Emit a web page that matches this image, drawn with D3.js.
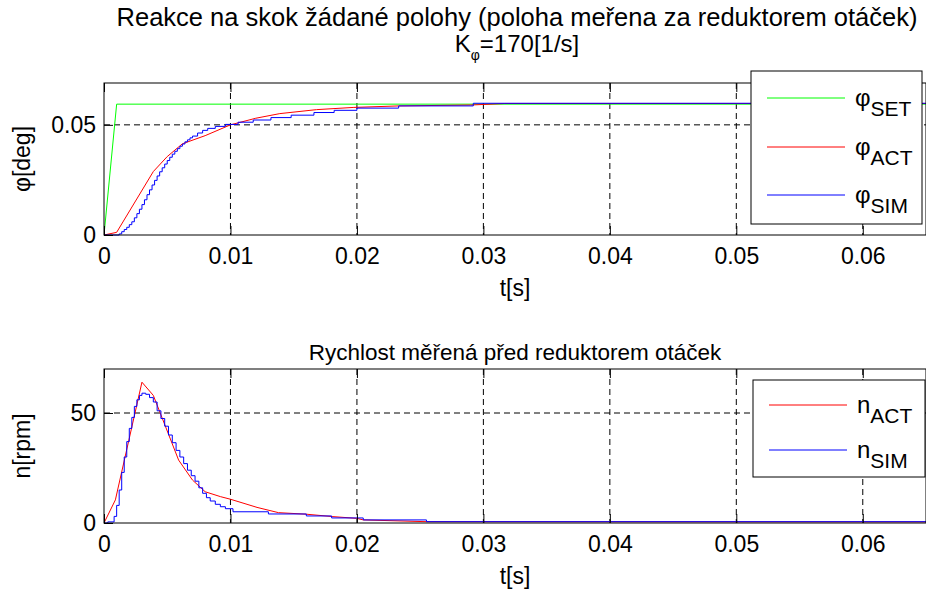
<!DOCTYPE html>
<html>
<head>
<meta charset="utf-8">
<script src="https://cdn.jsdelivr.net/npm/d3@7"></script>
<style>
  body { margin: 0; background: #fff; }
  svg text { font-family: "Liberation Sans", Arial, Helvetica, sans-serif; fill: #000; }
</style>
</head>
<body>
<div id="chart"></div>
<script>
// ---- data ----
// top plot, poloha [deg]
var tSet   = [0, 0.001, 0.065];
var phiSet = [0, 0.0594, 0.0594];

var tAct   = [0, 0.001, 0.0039, 0.005, 0.0062, 0.008, 0.010, 0.012, 0.0139, 0.0168, 0.0197, 0.0233, 0.029, 0.0317, 0.065];
var phiAct = [0, 0.0012, 0.0288, 0.0356, 0.0414, 0.0451, 0.0500, 0.0530, 0.0551, 0.0569, 0.0579, 0.0586, 0.0590, 0.0597, 0.0597];

// simulace is a staircase (sampled output)
var tSim   = [0, 0.0012, 0.0014, 0.0016, 0.0018, 0.0020, 0.0022, 0.0024, 0.0026, 0.0028, 0.0030, 0.0032, 0.0034,
              0.0036, 0.0038, 0.0040, 0.0042, 0.0044, 0.0046, 0.0048, 0.0050, 0.0052, 0.0054, 0.0056, 0.0058, 0.0060,
              0.0062, 0.0064, 0.0066, 0.0068, 0.0070, 0.0074, 0.0078, 0.0082, 0.0088, 0.0096, 0.0106, 0.0118, 0.0132,
              0.0148, 0.0166, 0.0182, 0.0200, 0.0233, 0.0292, 0.065];
var phiSim = [0, 0.0005, 0.0015, 0.0025, 0.0035, 0.0047, 0.0060, 0.0078, 0.0097, 0.0117, 0.0138, 0.0160, 0.0183,
              0.0205, 0.0227, 0.0248, 0.0268, 0.0287, 0.0305, 0.0322, 0.0338, 0.0353, 0.0367, 0.0380, 0.0392, 0.0403,
              0.0413, 0.0423, 0.0432, 0.0441, 0.0449, 0.0463, 0.0475, 0.0484, 0.0493, 0.0502, 0.0512, 0.0522, 0.0533,
              0.0544, 0.0556, 0.0566, 0.0576, 0.0586, 0.0598, 0.0598];

// bottom plot, rychlost [rpm]
var tNAct = [0, 0.0009, 0.0030, 0.0039, 0.0059, 0.0070, 0.0080, 0.0092, 0.0100, 0.0121, 0.0138, 0.0160, 0.0181,
             0.0200, 0.0205, 0.0255, 0.065];
var nAct  = [0, 10.5, 64, 58, 28.6, 19.5, 14.2, 12, 10.8, 7.1, 4.7, 4.0, 2.9, 2.1, 1.4, 0.6, 0.5];

var tNSim = [0, 0.0003, 0.0008, 0.0010, 0.0012, 0.0014, 0.0016, 0.0018, 0.0020, 0.0022, 0.0024, 0.0026, 0.0028,
             0.0030, 0.0033, 0.0036, 0.0039, 0.0042, 0.0045, 0.0048, 0.0051, 0.0054, 0.0057, 0.0060, 0.0063, 0.0066,
             0.0069, 0.0072, 0.0075, 0.0078, 0.0081, 0.0084, 0.0088, 0.0092, 0.0096, 0.0102, 0.0130, 0.0160, 0.0180,
             0.0205, 0.0255, 0.065];
var nSim  = [0, 0.5, 3, 8, 15, 23, 30, 37, 43, 48, 53, 56, 58,
             59, 58.5, 57, 55, 51, 47.5, 44, 40, 36.5, 33, 30, 27, 24,
             21.5, 19, 16, 13.5, 11.5, 10, 8.5, 7.4, 6.5, 5.1, 4.1, 3.2, 2.3,
             1.4, 0.6, 0.6];

// ticks
var xTicks      = [0, 0.01, 0.02, 0.03, 0.04, 0.05, 0.06];
var xTickLabels = ["0", "0.01", "0.02", "0.03", "0.04", "0.05", "0.06"];
var phiTicks      = [0, 0.05];
var phiTickLabels = ["0", "0.05"];
var nTicks      = [0, 50];
var nTickLabels = ["0", "50"];

var W = 926, H = 592;
var FS = 23;

var svg = d3.select("#chart").append("svg")
    .attr("width", W)
    .attr("height", H)
    .style("background-color", "white");

function zip(t, v) { return t.map(function(d, i) { return [d, v[i]]; }); }

// draws one axes box with grid, ticks and lines
function drawAxes(o) {
  var x = d3.scaleLinear().domain([0, 0.065]).range([104, 926]);
  var y = d3.scaleLinear().domain(o.ydomain).range([o.bottom, o.top]);
  var g = svg.append("g");

  g.append("rect")
    .attr("x", x.range()[0]).attr("y", o.top)
    .attr("width", x.range()[1] - x.range()[0]).attr("height", o.bottom - o.top)
    .attr("fill", "white");

  // dashed grid
  g.selectAll(".gx").data(xTicks.slice(1)).enter().append("line")
    .attr("x1", function(d) { return x(d); }).attr("x2", function(d) { return x(d); })
    .attr("y1", o.top).attr("y2", o.bottom)
    .attr("stroke", "#000").attr("stroke-width", 1).attr("stroke-dasharray", "6,4");
  g.selectAll(".gy").data(o.yticks.slice(1)).enter().append("line")
    .attr("x1", x.range()[0]).attr("x2", x.range()[1])
    .attr("y1", function(d) { return y(d); }).attr("y2", function(d) { return y(d); })
    .attr("stroke", "#000").attr("stroke-width", 1).attr("stroke-dasharray", "6,4");

  var clipId = "clip" + o.top;
  svg.append("clipPath").attr("id", clipId).append("rect")
    .attr("x", x.range()[0]).attr("y", o.top - 1)
    .attr("width", x.range()[1] - x.range()[0]).attr("height", o.bottom - o.top + 2);

  var lines = g.append("g").attr("clip-path", "url(#" + clipId + ")");
  o.series.forEach(function(s) {
    var line = d3.line()
      .x(function(d) { return x(d[0]); })
      .y(function(d) { return y(d[1]); })
      .curve(s.step ? d3.curveStepAfter : d3.curveLinear);
    lines.append("path")
      .datum(zip(s.t, s.v))
      .attr("d", line)
      .attr("fill", "none")
      .attr("stroke", s.color)
      .attr("stroke-width", 1);
  });

  // axes, ticks pointing inside
  var ax = g.append("g").attr("transform", "translate(0," + o.bottom + ")")
    .call(d3.axisBottom(x).tickValues(xTicks).tickFormat(function(d, i) { return xTickLabels[i]; })
      .tickSizeInner(-9).tickSizeOuter(0).tickPadding(13));
  var axTop = g.append("g").attr("transform", "translate(0," + o.top + ")")
    .call(d3.axisTop(x).tickValues(xTicks).tickFormat("").tickSizeInner(-9).tickSizeOuter(0));
  var ay = g.append("g").attr("transform", "translate(" + x.range()[0] + ",0)")
    .call(d3.axisLeft(y).tickValues(o.yticks).tickFormat(function(d, i) { return o.ylabels[i]; })
      .tickSizeInner(-9).tickSizeOuter(0).tickPadding(8));
  [ax, axTop, ay].forEach(function(a) {
    a.select(".domain").remove();
    a.selectAll("line").attr("stroke", "#000");
    a.selectAll("text").attr("font-size", FS).attr("font-family", null);
  });

  g.append("rect")
    .attr("x", x.range()[0]).attr("y", o.top)
    .attr("width", x.range()[1] - x.range()[0]).attr("height", o.bottom - o.top)
    .attr("fill", "none").attr("stroke", "#000").attr("stroke-width", 1);

  // x label
  g.append("text").attr("x", (x.range()[0] + x.range()[1]) / 2).attr("y", o.bottom + 61)
    .attr("text-anchor", "middle").attr("font-size", FS).text("t[s]");
  // y label
  g.append("text")
    .attr("transform", "translate(30," + (o.top + o.bottom) / 2 + ") rotate(-90)")
    .attr("text-anchor", "middle").attr("font-size", FS).text(o.ylabel);

  // legend
  var lg = g.append("g");
  lg.append("rect")
    .attr("x", o.legend.x).attr("y", o.legend.y).attr("width", o.legend.w).attr("height", o.legend.h)
    .attr("fill", "white").attr("stroke", "#000").attr("stroke-width", 1);
  o.series.forEach(function(s, i) {
    var ry = o.legend.rows[i];
    lg.append("line")
      .attr("x1", o.legend.x + 16).attr("x2", o.legend.x + 94)
      .attr("y1", ry).attr("y2", ry)
      .attr("stroke", s.color).attr("stroke-width", 1);
    var t = lg.append("text").attr("x", o.legend.x + 104).attr("y", ry + 8).attr("font-size", FS + 1);
    t.append("tspan").text(s.sym);
    t.append("tspan").attr("dy", 10).attr("font-size", FS - 2).text(s.sub);
  });
}

// titles
svg.append("text").attr("x", 517).attr("y", 26).attr("text-anchor", "middle").attr("font-size", 25.5)
  .text("Reakce na skok žádané polohy (poloha meřena za reduktorem otáček)");
var t2 = svg.append("text").attr("x", 517).attr("y", 52).attr("text-anchor", "middle").attr("font-size", 24);
t2.append("tspan").text("K");
t2.append("tspan").attr("dy", 8).attr("font-size", 14).text("φ");
t2.append("tspan").attr("dy", -8).text("=170[1/s]");

svg.append("text").attr("x", 515).attr("y", 360).attr("text-anchor", "middle").attr("font-size", 22.5)
  .text("Rychlost měřená před reduktorem otáček");

drawAxes({
  top: 83, bottom: 235,
  ydomain: [0, 0.069],
  yticks: phiTicks, ylabels: phiTickLabels,
  ylabel: "φ[deg]",
  series: [
    { t: tSet, v: phiSet, color: "#00ff00", sym: "φ", sub: "SET" },
    { t: tAct, v: phiAct, color: "#ff0000", sym: "φ", sub: "ACT" },
    { t: tSim, v: phiSim, color: "#0000ff", sym: "φ", sub: "SIM", step: true }
  ],
  legend: { x: 751, y: 71, w: 171, h: 153, rows: [98, 147, 195] }
});

drawAxes({
  top: 369, bottom: 523,
  ydomain: [0, 70],
  yticks: nTicks, ylabels: nTickLabels,
  ylabel: "n[rpm]",
  series: [
    { t: tNAct, v: nAct, color: "#ff0000", sym: "n", sub: "ACT" },
    { t: tNSim, v: nSim, color: "#0000ff", sym: "n", sub: "SIM", step: true }
  ],
  legend: { x: 753, y: 380, w: 172, h: 97, rows: [405, 450] }
});
</script>
</body>
</html>
